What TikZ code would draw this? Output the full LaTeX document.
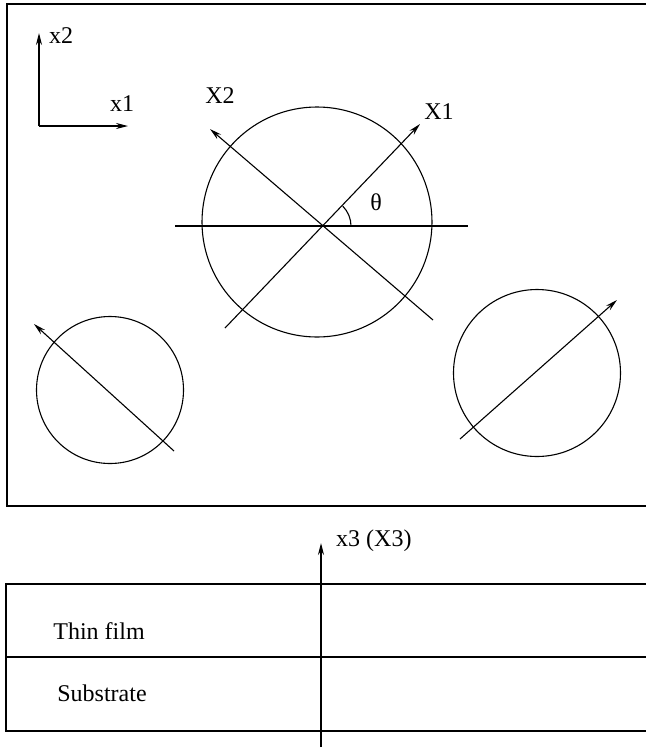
\documentclass[tikz,border=0pt]{standalone}
\usepackage{fontspec}
\setmainfont{Liberation Serif}
\usetikzlibrary{arrows.meta}
\begin{document}
\begin{tikzpicture}[x=1pt,y=-1pt,
  ln/.style={line width=1.1pt},
  arr/.style={ln,-{Stealth[length=12pt,width=6pt,inset=4pt]}},
  lbl/.style={inner sep=0pt,font=\fontsize{24}{28}\selectfont}]
\useasboundingbox (0,0) rectangle (646,748);
% top frame (open at right)
\draw[ln] (646,4) -- (7,4) -- (7,506) -- (646,506);
% reference axes
\coordinate (o) at (39,126);
\coordinate (x2t) at (39,33);
\coordinate (x1t) at (128,126);
\draw[arr] (o) -- (x2t);
\draw[arr] (o) -- (x1t);
\node[lbl] (x2) at (61,36) {x2};
\node[lbl] (x1) at (122,104) {x1};
% central grain
\node[ln,draw,circle,minimum size=230pt,inner sep=0pt] (c) at (317,222) {};
\coordinate (ctr) at (323,226);
\coordinate (hl) at (175,226);
\coordinate (hr) at (468,226);
\draw[ln] (hl) -- (hr);
\coordinate (a1s) at (225,328);
\coordinate (a1t) at (420,124);
\draw[arr] (a1s) -- (a1t);
\coordinate (a2s) at (433,320);
\coordinate (a2t) at (210,129);
\draw[arr] (a2s) -- (a2t);
\node[lbl] (X1) at (439,112) {X1};
\node[lbl] (X2) at (220,96) {X2};
\draw[ln] ([shift={(0:28pt)}]ctr) arc[start angle=0,end angle=-45,radius=28];
\node[lbl] (th) at (376,202) {θ};
% left grain
\node[ln,draw,circle,minimum size=147pt,inner sep=0pt] (cl) at (110,390) {};
\coordinate (ls) at (174,451);
\coordinate (lt) at (34,324);
\draw[arr] (ls) -- (lt);
% right grain
\node[ln,draw,circle,minimum size=167pt,inner sep=0pt] (cr) at (537,373) {};
\coordinate (rs) at (460,439);
\coordinate (rt) at (617,300);
\draw[arr] (rs) -- (rt);
% film / substrate
\draw[ln] (646,584) -- (6,584) -- (6,731) -- (646,731);
\draw[ln] (6,657) -- (646,657);
\coordinate (zb) at (321,747);
\coordinate (zt) at (321,543);
\draw[arr] (zb) -- (zt);
\node[lbl,anchor=west] (x3) at (336,541) {x3 (X3)};
\node[lbl] (tf) at (99,631) {Thin film};
\node[lbl] (sub) at (102,693) {Substrate};
\end{tikzpicture}
\end{document}
